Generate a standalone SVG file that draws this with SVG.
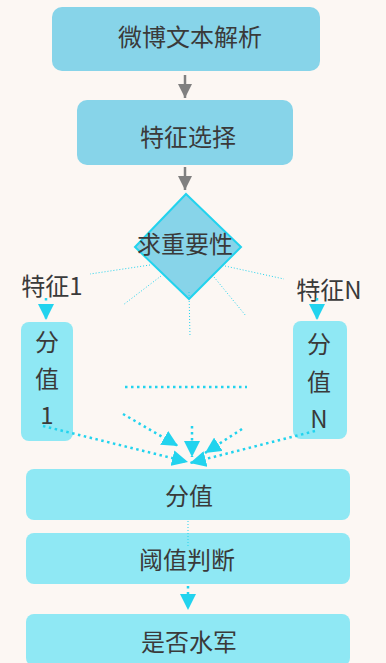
<svg xmlns="http://www.w3.org/2000/svg" width="386" height="663" viewBox="0 0 386 663">
<defs>
<style>
.t{font-family:"Noto Sans CJK SC","Noto Sans",sans-serif;font-size:24px;fill:#3a3a3a;text-anchor:middle;dominant-baseline:central}
.b1{fill:#87D4E9}
.b2{fill:#8FE8F4}
.thin{stroke:#22D3EE;stroke-width:1;stroke-dasharray:1 2;fill:none}
.thick{stroke:#22D3EE;stroke-width:2.5;stroke-dasharray:2.5 3.5;fill:none}
.gray{stroke:#808080;stroke-width:2.5;fill:none}
</style>
<marker id="ag" viewBox="0 0 10 10" refX="10" refY="5" markerWidth="14" markerHeight="14" markerUnits="userSpaceOnUse" orient="auto"><path d="M0,0 L10,5 L0,10 Z" fill="#808080"/></marker>
<marker id="ac" viewBox="0 0 10 10" refX="10" refY="5" markerWidth="16" markerHeight="16" markerUnits="userSpaceOnUse" orient="auto"><path d="M0,0 L10,5 L0,10 Z" fill="#22D3EE"/></marker>
</defs>
<rect width="386" height="663" fill="#FCF7F3"/>

<g id="n1"><rect class="b1" x="52" y="7" width="268" height="64" rx="10"/><text class="t" x="190" y="35">微博文本解析</text></g>
<g id="n2"><rect class="b1" x="77" y="100" width="216" height="65" rx="10"/><text class="t" x="188" y="135">特征选择</text></g>
<g id="n3"><path d="M186,194 L241,247 L189,299 L135,247 Z" fill="#87D4E9" stroke="#22D3EE" stroke-width="2"/><text class="t" x="185" y="242">求重要性</text></g>
<g id="l1"><text class="t" x="52" y="284">特征1</text></g>
<g id="lN"><text class="t" x="329" y="288">特征N</text></g>
<g id="n4"><rect class="b2" x="21" y="322" width="52" height="119" rx="8"/><text class="t" x="47" y="340">分</text><text class="t" x="47" y="377">值</text><text class="t" x="47" y="413">1</text></g>
<g id="n5"><rect class="b2" x="293" y="321" width="54" height="118" rx="8"/><text class="t" x="319" y="342">分</text><text class="t" x="319" y="380">值</text><text class="t" x="319" y="417">N</text></g>
<g id="n6"><rect class="b2" x="26" y="469" width="324" height="51" rx="8"/><text class="t" x="189" y="494">分值</text></g>
<g id="n7"><rect class="b2" x="26" y="533" width="324" height="51" rx="8"/><text class="t" x="187" y="558">阈值判断</text></g>
<g id="n8"><rect class="b2" x="26" y="614" width="324" height="52" rx="8"/><text class="t" x="189" y="640">是否水军</text></g>

<g id="connectors">
<line class="gray" x1="185" y1="75" x2="185" y2="98" marker-end="url(#ag)"/>
<line class="gray" x1="185" y1="167" x2="185" y2="190" marker-end="url(#ag)"/>
<line class="thin" x1="150" y1="265" x2="90" y2="274"/>
<line class="thin" x1="161" y1="276" x2="123" y2="305"/>
<line class="thin" x1="189" y1="292" x2="190" y2="337"/>
<line class="thin" x1="214" y1="277" x2="246" y2="316"/>
<line class="thin" x1="225" y1="266" x2="284" y2="279"/>
<line class="thick" x1="46" y1="298" x2="46" y2="320" marker-end="url(#ac)"/>
<line class="thick" x1="317" y1="298" x2="317" y2="320" marker-end="url(#ac)"/>
<line class="thick" x1="125" y1="387" x2="247" y2="387" stroke-width="2"/>
<line class="thick" x1="43" y1="426" x2="188" y2="462" marker-end="url(#ac)"/>
<line class="thick" x1="123" y1="414" x2="178" y2="446" marker-end="url(#ac)"/>
<line class="thick" x1="192" y1="426" x2="192" y2="457" marker-end="url(#ac)"/>
<line class="thick" x1="242" y1="429" x2="205" y2="453" marker-end="url(#ac)"/>
<line class="thick" x1="315" y1="431" x2="190" y2="463" marker-end="url(#ac)"/>
<line class="thin" x1="188" y1="521" x2="188" y2="548"/>
<line class="thick" x1="188" y1="586" x2="188" y2="610" marker-end="url(#ac)"/>
</g>
</svg>
